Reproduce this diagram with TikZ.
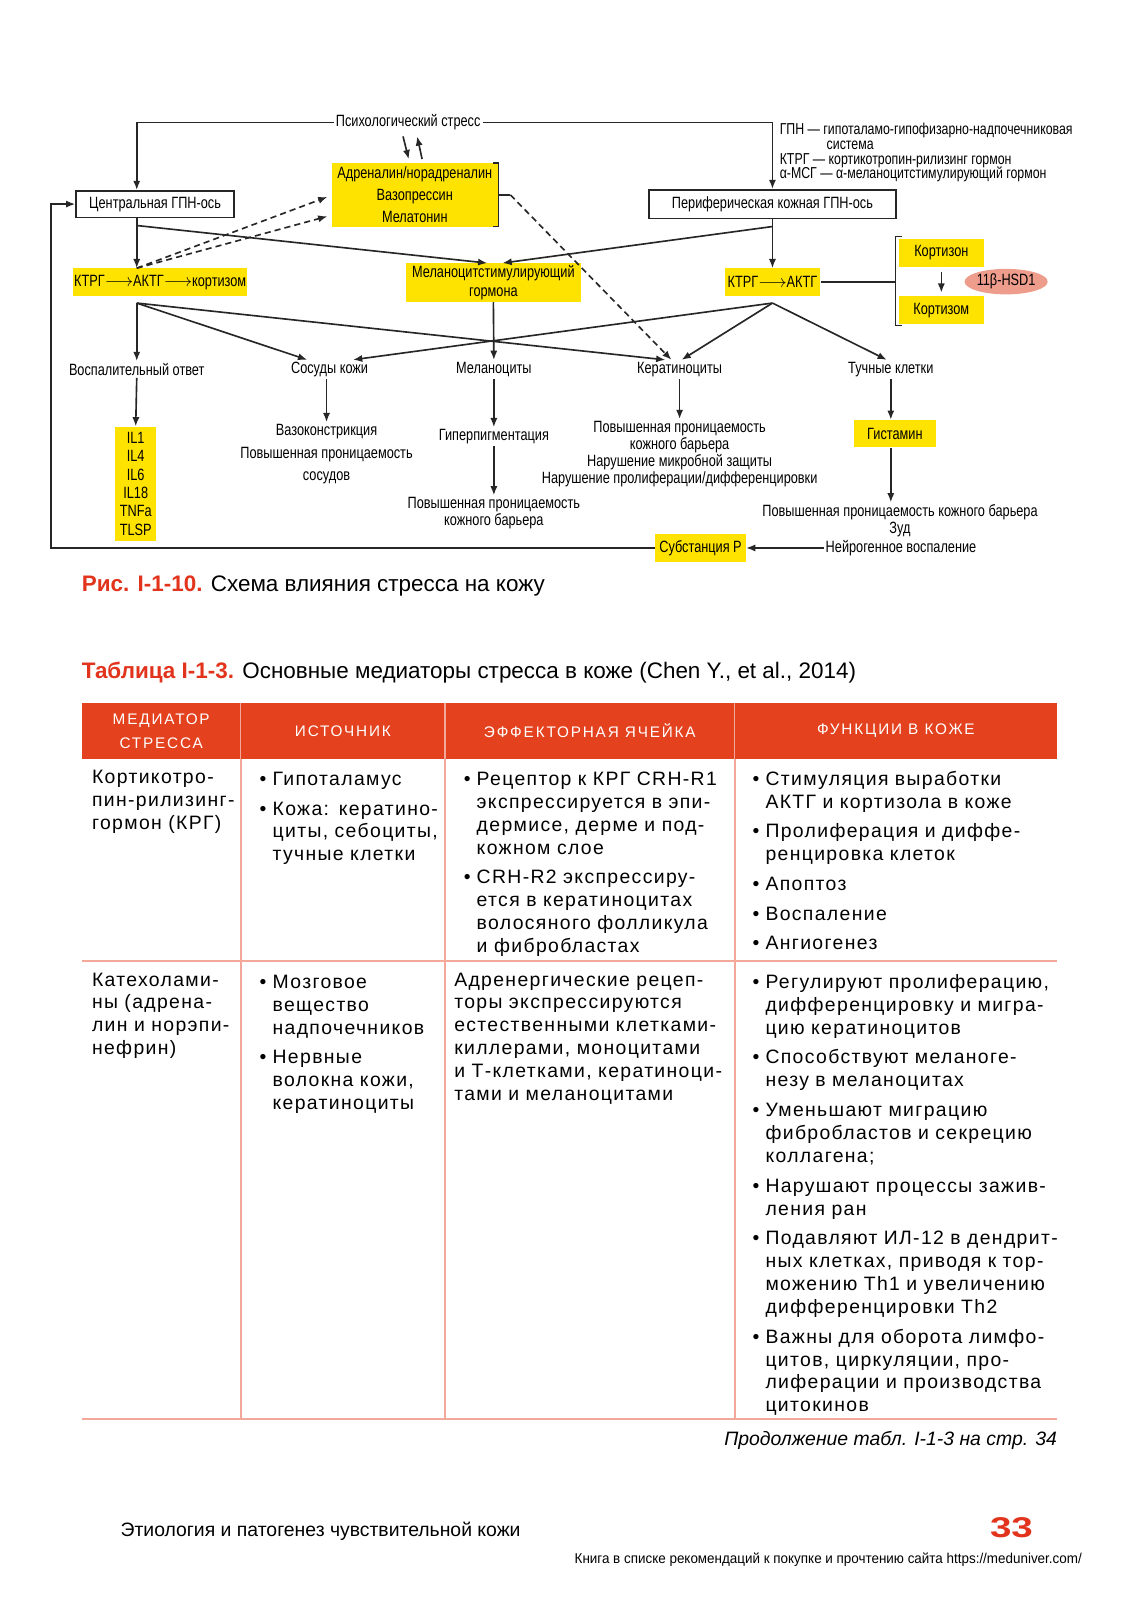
\documentclass[tikz,border=0pt]{standalone}
\usepackage{fontspec}
\setmainfont{Liberation Sans}
\newfontfamily\dfont[FakeStretch=0.78]{Liberation Sans}
\newfontfamily\tfont[LetterSpace=7]{Liberation Sans}
\newfontfamily\hfont[LetterSpace=12]{Liberation Sans}
\newfontfamily\nfont[FakeStretch=0.94]{Liberation Sans}
\newfontfamily\numfont[FakeStretch=1.35]{Liberation Sans}
\usepackage{enumitem}
\usetikzlibrary{arrows.meta, shapes.geometric}
\setlist[itemize]{label=\textbullet, leftmargin=15pt, labelsep=6pt, topsep=0pt, partopsep=0pt, parsep=0pt, itemsep=6.5pt}
\definecolor{hlyellow}{HTML}{FFE300}
\definecolor{hdrred}{HTML}{E4411E}
\definecolor{tpink}{HTML}{F4A899}
\definecolor{capred}{HTML}{E2341D}
\definecolor{hsdpink}{HTML}{EE9C8C}

\begin{document}
\begin{tikzpicture}[x=1pt, y=-1pt,
  box/.style={draw=black!85, line width=1.6pt, fill=white, minimum height=26pt, inner sep=0pt, font=\dfont\fontsize{16}{18}\selectfont},
  ybox/.style={fill=hlyellow, inner sep=0pt, align=center, font=\dfont\fontsize{16}{18}\selectfont},
  lbl/.style={inner sep=2pt, align=center, font=\dfont\fontsize{16}{17}\selectfont},
  leg/.style={inner sep=0pt, anchor=west, font=\dfont\fontsize{15.5}{15.5}\selectfont},
  arr/.style={-{Latex[length=9pt,width=7pt]}, line width=1.6pt, draw=black!85},
  darr/.style={arr, dash pattern=on 6pt off 4pt},
  ln/.style={line width=1.6pt, draw=black!85},
  tcell/.style={anchor=north west, inner sep=0pt, align=left, font=\tfont\fontsize{19}{22.5}\selectfont},
  hcell/.style={text=white, inner sep=0pt, align=center, font=\hfont\fontsize{15}{23}\selectfont},
  tline/.style={draw=tpink, line width=2pt}
]
\useasboundingbox[fill=white] (0,0) rectangle (1109,1568);

% scheme: top
\node[lbl] (stress) at (400,120) {Психологический стресс};
\node[box, minimum width=155pt] (cen) at (152,200) {Центральная ГПН-ось};
\node[box, minimum width=242pt, minimum height=28pt] (per) at (757,200) {Периферическая кожная ГПН-ось};
\node[ybox, minimum width=163pt, minimum height=62pt, font=\dfont\fontsize{16}{21.5}\selectfont] (adr) at (406.5,191) {Адреналин/норадреналин\\Вазопрессин\\Мелатонин};
\node[ybox, minimum width=171pt, minimum height=38pt] (msh) at (483.5,277) {Меланоцитстимулирующий\\гормона};
\node[ybox, minimum width=170pt, minimum height=27pt] (ktl) at (157,276.5) {КТРГ$\longrightarrow$АКТГ$\longrightarrow$кортизом};
\node[ybox, minimum width=94pt, minimum height=27pt] (ktr) at (757,276.5) {КТРГ$\longrightarrow$АКТГ};
\node[ybox, minimum width=83pt, minimum height=28pt] (kzon) at (922.5,248) {Кортизон};
\node[ybox, minimum width=83pt, minimum height=28pt] (kzol) at (922.5,304) {Кортизом};
\node[ellipse, fill=hsdpink, minimum width=70pt, minimum height=25pt, inner sep=0pt, font=\dfont\fontsize{16}{18}\selectfont] (hsd) at (986,276) {11β-HSD1};

% legend
\node[leg] (lg1) at (764,128) {ГПН — гипоталамо-гипофизарно-надпочечниковая};
\node[leg] (lg1b) at (810,142) {система};
\node[leg] (lg2) at (764,157) {КТРГ — кортикотропин-рилизинг гормон};
\node[leg] (lg3) at (764,171) {α-МСГ — α-меланоцитстимулирующий гормон};

% targets
\node[lbl] (vos) at (134,362) {Воспалительный ответ};
\node[lbl] (sos) at (323,362) {Сосуды кожи};
\node[lbl] (mel) at (484,362) {Меланоциты};
\node[lbl] (ker) at (666,362) {Кератиноциты};
\node[lbl] (tuch) at (873,362) {Тучные клетки};

% effects
\node[ybox, minimum width=40pt, minimum height=112pt] (il) at (133,474) {IL1\\IL4\\IL6\\IL18\\TNFa\\TLSP};
\node[lbl, font=\dfont\fontsize{16}{22}\selectfont] (vaso) at (320,445) {Вазоконстрикция\\Повышенная проницаемость\\сосудов};
\node[lbl] (hyp) at (484,428) {Гиперпигментация};
\node[lbl, font=\dfont\fontsize{16}{16.5}\selectfont] (pbar) at (484,503) {Повышенная проницаемость\\кожного барьера};
\node[lbl, font=\dfont\fontsize{16}{16.7}\selectfont] (kout) at (666,445) {Повышенная проницаемость\\кожного барьера\\Нарушение микробной защиты\\Нарушение пролиферации/дифференцировки};
\node[ybox, minimum width=81pt, minimum height=27pt] (hist) at (877,425) {Гистамин};
\node[lbl] (mout) at (882,510.5) {Повышенная проницаемость кожного барьера\\Зуд};
\node[lbl] (neuro) at (883,537) {Нейрогенное воспаление};
\node[ybox, minimum width=89pt, minimum height=28pt] (subp) at (686.5,537) {Субстанция P};

\coordinate (kf) at (134,297);
\coordinate (rf) at (757,297);
\coordinate (cf) at (134,221);
\coordinate (pf) at (757,222);
\coordinate (fb) at (50,537);
\coordinate (brk) at (878,276);
\coordinate (tx) at (873,0);

\draw[arr] (stress.west) -- (stress.west -| kf) -- (cen.north -| kf);
\draw[arr] (stress.east) -- (stress.east -| per.north) -- (per.north);
\draw[arr, shorten <=4pt, shorten >=4pt] ([xshift=-6pt]stress.south) -- ([xshift=-5pt]adr.north);
\draw[arr, shorten <=4pt, shorten >=4pt] ([xshift=8pt]adr.north) -- ([xshift=8pt]stress.south);
\draw[arr] (cen.south -| kf) -- (ktl.north -| kf);
\draw[arr] (cf) -- ([xshift=-6pt]msh.north);
\draw[darr] (ktl.north -| kf) -- ([xshift=-4pt,yshift=-2pt]adr.west);
\draw[darr] (ktl.north -| kf) -- ([xshift=-4pt,yshift=-21pt]adr.west);
\draw[arr] (per.south) -- (ktr.north);
\draw[arr] (pf) -- ([xshift=9pt]msh.north);
\draw[ln, line width=1.2pt] ([xshift=-5pt]adr.north east) -- (adr.north east) -- (adr.south east) -- ([xshift=-5pt]adr.south east);
\draw[ln] (adr.east) -- ([xshift=12pt]adr.east) coordinate (ds);
\draw[darr] (ds) -- ([xshift=-8pt]ker.north);
\draw[ln] (ktr.east) -- (ktr.east -| brk);
\draw[ln, line width=1.2pt] ([xshift=3pt,yshift=2pt]kzon.north west) -- ([xshift=-3pt,yshift=2pt]kzon.north west) -- ([xshift=-3pt,yshift=-1pt]kzol.south west) -- ([xshift=3pt,yshift=-1pt]kzol.south west);
\draw[arr, shorten <=4pt, shorten >=3pt] (kzon.south) -- (kzol.north);

\draw[arr] (kf) -- (vos.north);
\draw[arr] (kf) -- ([xshift=-22pt]sos.north);
\draw[arr] (kf) -- ([xshift=-14pt]ker.north);
\draw[arr] (rf) -- ([xshift=23pt]sos.north);
\draw[arr] (rf) -- ([xshift=2pt]ker.north);
\draw[arr] (rf) -- ([xshift=-4pt]tuch.north);
\draw[arr] (msh.south) -- (mel.north);

\draw[arr] (vos.south) -- (il.north);
\draw[arr] (sos.south -| vaso.north) -- (vaso.north);
\draw[arr] (mel.south) -- (hyp.north);
\draw[arr] (hyp.south) -- (pbar.north);
\draw[arr] (ker.south) -- (kout.north);
\draw[arr] (tuch.south) -- (hist.north -| tx);
\draw[arr] (hist.south -| tx) -- (mout.north -| tx);
\draw[arr] (neuro.west) -- (subp.east);
\draw[arr] (subp.west) -- (fb) -- (fb |- cen.west) -- (cen.west);

% captions
\node[anchor=base west, inner sep=0pt, font=\fontsize{22}{24}\selectfont] (cap) at (80,580) {{\bfseries\color{capred}Рис. I-1-10.} Схема влияния стресса на кожу};
\node[anchor=base west, inner sep=0pt, font=\fontsize{22}{24}\selectfont] (ttl) at (80,665) {{\bfseries\color{capred}Таблица I-1-3.} Основные медиаторы стресса в коже (Chen Y., et al., 2014)};

% table
\fill[hdrred] (80,689) rectangle (1036,744);
\draw[draw=white!55!hdrred, line width=1.2pt] (236,689) -- (236,744) (436,689) -- (436,744) (720,689) -- (720,744);
\node[hcell] (h1) at (158,716.5) {МЕДИАТОР\\СТРЕССА};
\node[hcell] (h2) at (336,716.5) {ИСТОЧНИК};
\node[hcell] (h3) at (578,716.5) {ЭФФЕКТОРНАЯ ЯЧЕЙКА};
\node[hcell] (h4) at (878,716.5) {ФУНКЦИИ В КОЖЕ};
\draw[tline] (236,744) -- (236,1391);
\draw[tline] (436,744) -- (436,1391);
\draw[tline] (720,744) -- (720,1391);
\draw[tline] (80,942) -- (1036,942);
\draw[tline] (80,1391) -- (1036,1391);

\node[tcell, text width=140pt] (r1c1) at (90,755) {Кортикотро-\\пин-рилизинг-\\гормон (КРГ)};
\node[tcell, text width=190pt] (r1c2) at (252,747) {\begin{itemize}\item Гипоталамус \item Кожа: кератино-\\циты, себоциты,\\тучные клетки\end{itemize}};
\node[tcell, text width=280pt] (r1c3) at (452,747) {\begin{itemize}\item Рецептор к КРГ CRH-R1\\экспрессируется в эпи-\\дермисе, дерме и под-\\кожном слое \item CRH-R2 экспрессиру-\\ется в кератиноцитах\\волосяного фолликула\\и фибробластах\end{itemize}};
\node[tcell, text width=330pt] (r1c4) at (735,747) {\begin{itemize}\item Стимуляция выработки\\АКТГ и кортизола в коже \item Пролиферация и диффе-\\ренцировка клеток \item Апоптоз \item Воспаление \item Ангиогенез\end{itemize}};

\node[tcell, text width=140pt] (r2c1) at (90,953) {Катехолами-\\ны (адрена-\\лин и норэпи-\\нефрин)};
\node[tcell, text width=190pt] (r2c2) at (252,946) {\begin{itemize}\item Мозговое\\вещество\\надпочечников \item Нервные\\волокна кожи,\\кератиноциты\end{itemize}};
\node[tcell, text width=290pt] (r2c3) at (445,953) {Адренергические рецеп-\\торы экспрессируются\\естественными клетками-\\киллерами, моноцитами\\и Т-клетками, кератиноци-\\тами и меланоцитами};
\node[tcell, text width=330pt] (r2c4) at (735,946) {\begin{itemize}\item Регулируют пролиферацию,\\дифференцировку и мигра-\\цию кератиноцитов \item Способствуют меланоге-\\незу в меланоцитах \item Уменьшают миграцию\\фибробластов и секрецию\\коллагена; \item Нарушают процессы зажив-\\ления ран \item Подавляют ИЛ-12 в дендрит-\\ных клетках, приводя к тор-\\можению Th1 и увеличению\\дифференцировки Th2 \item Важны для оборота лимфо-\\цитов, циркуляции, про-\\лиферации и производства\\цитокинов\end{itemize}};

\node[anchor=base east, inner sep=0pt, font=\itshape\fontsize{19}{20}\selectfont] (cont) at (1036,1417) {Продолжение табл. I-1-3 на стр. 34};

% footer
\node[anchor=base west, inner sep=0pt, font=\fontsize{19}{20}\selectfont] (foot) at (118,1506) {Этиология и патогенез чувствительной кожи};
\node[anchor=base west, inner sep=0pt, text=capred, font=\numfont\bfseries\fontsize{28}{30}\selectfont] (pgno) at (970,1507) {33};
\node[anchor=base west, inner sep=0pt, font=\nfont\fontsize{14}{15}\selectfont] (web) at (563,1532) {Книга в списке рекомендаций к покупке и прочтению сайта https://meduniver.com/};
\end{tikzpicture}
\end{document}
